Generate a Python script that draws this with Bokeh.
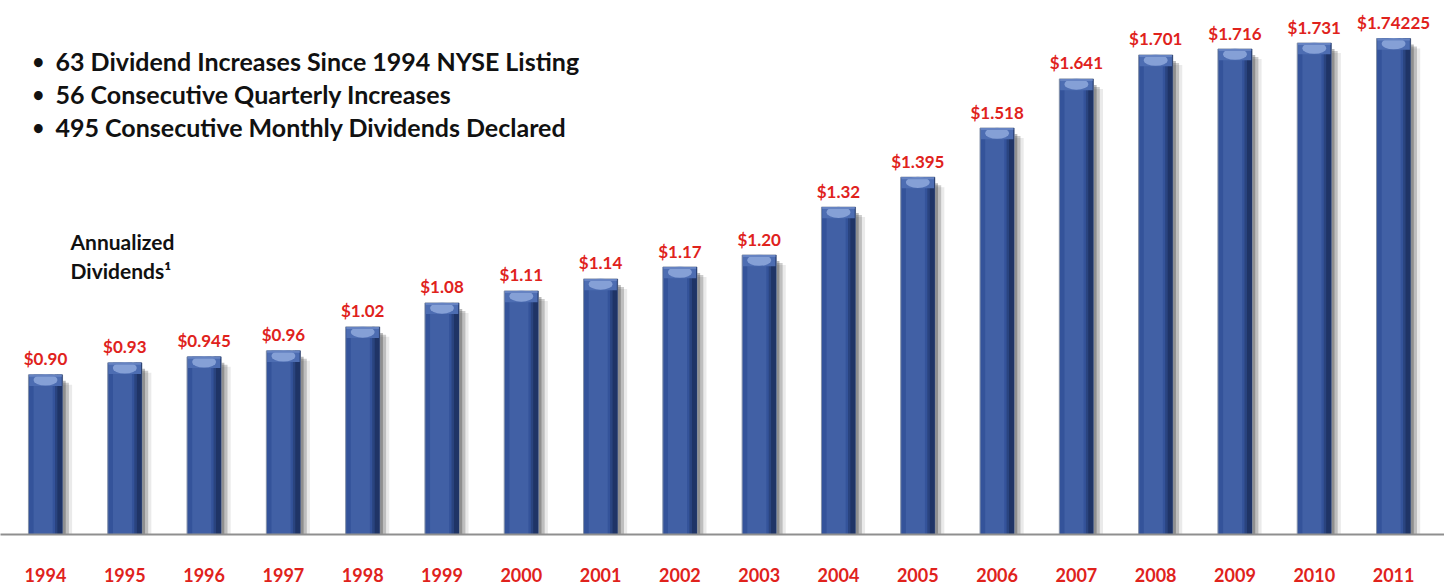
from bokeh.plotting import figure
from bokeh.models import ColumnDataSource, Range1d, FixedTicker, Label
from bokeh.transform import dodge
from bokeh.core.properties import value
from bokeh.embed import file_html
from bokeh.resources import INLINE

years = ["1994", "1995", "1996", "1997", "1998", "1999", "2000", "2001", "2002",
         "2003", "2004", "2005", "2006", "2007", "2008", "2009", "2010", "2011"]
dividends = [0.90, 0.93, 0.945, 0.96, 1.02, 1.08, 1.11, 1.14, 1.17,
             1.20, 1.32, 1.395, 1.518, 1.641, 1.701, 1.716, 1.731, 1.74225]
labels = ["$0.90", "$0.93", "$0.945", "$0.96", "$1.02", "$1.08", "$1.11", "$1.14", "$1.17",
          "$1.20", "$1.32", "$1.395", "$1.518", "$1.641", "$1.701", "$1.716", "$1.731", "$1.74225"]
bullets = ["63 Dividend Increases Since 1994 NYSE Listing",
           "56 Consecutive Quarterly Increases",
           "495 Consecutive Monthly Dividends Declared"]
side_title = ["Annualized", "Dividends\u00b9"]

BASE = 0.5
RED = "#e0221c"
FONT = "Lato"
FRAME_H = 535

src = ColumnDataSource(dict(
    x=list(range(len(years))),
    top=dividends,
    label=labels,
))

p = figure(width=1444, height=584, output_backend="svg", toolbar_location=None,
           x_range=Range1d(-0.5675, 17.642), y_range=Range1d(BASE, 1.8375),
           y_axis_location=None, min_border_left=0, min_border_right=0,
           min_border_top=0, min_border_bottom=584 - FRAME_H,
           background_fill_color="white", border_fill_color="white",
           outline_line_color=None)
p.grid.visible = False

W = 0.43
# drop shadow to the right
p.vbar(x=dodge("x", 0.12), top=dodge("top", -0.025), bottom=BASE, width=W, source=src,
       fill_color="#8a8a8a", fill_alpha=0.18, line_color=None)
p.vbar(x=dodge("x", 0.08), top=dodge("top", -0.02), bottom=BASE, width=W, source=src,
       fill_color="#5a5a5a", fill_alpha=0.30, line_color=None)
p.vbar(x=dodge("x", 0.04), top=dodge("top", -0.015), bottom=BASE, width=W, source=src,
       fill_color="#3a3a3a", fill_alpha=0.35, line_color=None)
# main bar
p.vbar(x="x", top="top", bottom=BASE, width=W, source=src,
       fill_color="#34539a", line_color="#8390a8", line_width=1)
# dark right edge
p.vbar(x=dodge("x", 0.18), top="top", bottom=BASE, width=0.07, source=src,
       fill_color="#1f3466", line_color=None)
p.vbar(x=dodge("x", 0.135), top="top", bottom=BASE, width=0.03, source=src,
       fill_color="#2a447f", line_color=None)
# center highlight
p.vbar(x=dodge("x", -0.03), top="top", bottom=BASE, width=0.24, source=src,
       fill_color="#4262a6", fill_alpha=0.9, line_color=None)
# top bevel
p.vbar(x="x", top="top", bottom=dodge("top", -0.028), width=W - 0.02, source=src,
       fill_color="#4d6db2", line_color=None)
p.ellipse(x="x", y=dodge("top", -0.013), width=0.30, height=0.028, source=src,
          fill_color="#8ca5d9", fill_alpha=0.9, line_color=None)
p.vbar(x="x", top="top", bottom=dodge("top", -0.005), width=W - 0.02, source=src,
       fill_color="#6683c2", line_color=None)

# value labels
p.text(x="x", y="top", text="label", source=src, text_align="center",
       text_baseline="alphabetic", y_offset=-16, text_color=RED,
       text_font=value(FONT), text_font_style="bold", text_font_size="17px")

# x axis
p.xaxis.ticker = FixedTicker(ticks=list(range(len(years))))
p.xaxis.major_label_overrides = {i: y for i, y in enumerate(years)}
p.xaxis.major_label_text_color = RED
p.xaxis.major_label_text_font = FONT
p.xaxis.major_label_text_font_style = "bold"
p.xaxis.major_label_text_font_size = "18px"
p.xaxis.major_label_standoff = 27
p.xaxis.major_tick_line_color = None
p.xaxis.minor_tick_line_color = None
p.xaxis.axis_line_color = "#8f8f8f"
p.xaxis.axis_line_width = 2

# bullet text (screen units: from frame left / frame bottom)
for i, t in enumerate(bullets):
    ys = FRAME_H - (61 + 33 * i)
    p.add_layout(Label(x=32, y=ys, x_units="screen", y_units="screen", text="\u2022",
                       text_font=FONT, text_font_style="bold", text_font_size="20px",
                       text_color="#111111", text_baseline="middle"))
    p.add_layout(Label(x=55, y=ys, x_units="screen", y_units="screen", text=t,
                       text_font=FONT, text_font_style="bold", text_font_size="25px",
                       text_color="#111111", text_baseline="middle"))

for i, t in enumerate(side_title):
    ys = FRAME_H - (242 + 29 * i)
    p.add_layout(Label(x=70, y=ys, x_units="screen", y_units="screen", text=t,
                       text_font=FONT, text_font_style="bold", text_font_size="21px",
                       text_color="#111111", text_baseline="middle"))

open("out.html", "w").write(file_html(p, INLINE))
